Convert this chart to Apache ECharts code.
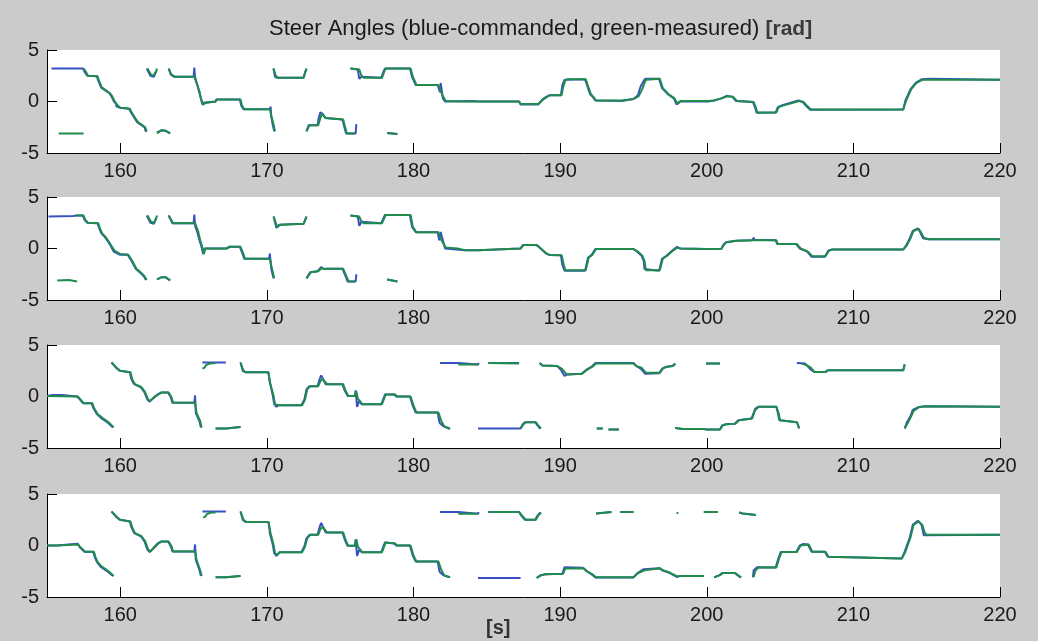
<!DOCTYPE html>
<html>
<head>
<meta charset="utf-8">
<script src="https://cdn.jsdelivr.net/npm/echarts@6/dist/echarts.min.js"></script>
<style>
  html, body { margin: 0; padding: 0; background: #cbcbcb; }
  #chart { width: 1038px; height: 641px; }
</style>
</head>
<body>
<div id="chart"></div>
<script>
// Steer angle traces, [time s, angle rad]; null marks a break (angle wrap / dropout).
const xTicks = [160, 170, 180, 190, 200, 210, 220];
const yTicks = [-5, 0, 5];

// ---- wheel 1 ----
const cmd1 = [
  [155.3,3.2],[157.45,3.2],[157.6,2.8],[157.75,2.5],[158.4,2.45],[158.5,2.0],[158.7,1.35],[158.95,1.1],[159.25,0.8],[159.4,0.5],[159.55,0.05],[159.7,-0.2],[159.75,-0.5],[160.0,-0.6],[160.6,-0.7],[160.7,-1.0],[160.9,-1.45],[161.15,-2.0],[161.45,-2.3],[161.65,-2.5],[161.75,-2.95], null,
  [161.8,3.2],[162.05,2.5],[162.3,2.4],[162.45,3.0], null,
  [162.5,-3.0],[162.8,-2.8],[163.1,-2.85],[163.4,-3.1], null,
  [163.3,3.2],[163.45,2.6],[163.65,2.4],[165.0,2.4],[165.05,3.3],[165.1,2.2],[165.25,1.6],[165.4,0.8],[165.6,-0.3],[165.75,-0.1],[165.85,0],[166.5,0],[166.55,0.2],[168.15,0.2],[168.25,-0.4],[168.4,-0.75],[170.2,-0.75],[170.25,-0.5],[170.3,-1.5],[170.4,-2.3],[170.5,-2.9], null,
  [170.45,3.2],[170.55,2.4],[170.7,2.3],[172.5,2.3],[172.6,2.8],[172.7,3.2], null,
  [172.7,-2.9],[172.85,-2.3],[173.45,-2.3],[173.55,-1.5],[173.65,-1.06],[173.8,-1.2],[174.0,-1.6],[174.1,-1.7],[175.15,-1.75],[175.25,-2.3],[175.4,-3.1],[176.05,-3.1],[176.1,-2.2], null,
  [175.7,3.2],[176.2,3.1],[176.3,2.2],[176.45,2.4],[176.55,2.3],[177.8,2.3],[177.95,2.9],[178.05,3.2],[179.75,3.2],[179.9,2.4],[180.15,1.6],[181.65,1.6],[181.8,0.9],[181.85,1.8],[182.0,0.3],[182.15,0.0],[184.0,0.05],[184.5,0.0],[187.2,0.0],[187.3,-0.3],[188.5,-0.3],[188.8,0.2],[189.05,0.45],[189.25,0.6],[190.05,0.6],[190.15,1.6],[190.3,2.1],[191.7,2.15],[191.85,1.5],[192.05,0.7],[192.25,0.4],[192.4,0.1],[194.2,0.05],[195.0,0.25],[195.3,0.6],[195.5,1.5],[195.7,2.0],[195.8,2.2],[196.75,2.2],[196.95,1.3],[197.35,0.7],[197.75,0.3],[197.95,-0.3],[198.2,0.0],[200.1,0.0],[200.5,0.1],[201.0,0.3],[201.35,0.55],[201.75,0.45],[202.0,0.05],[203.15,-0.05],[203.3,-0.6],[203.4,-1.1],[204.7,-1.06],[204.85,-0.55],[205.15,-0.35],[206.25,0.1],[206.55,-0.05],[206.75,-0.4],[207.05,-0.8],[213.4,-0.77],[213.55,0.1],[213.9,1.2],[214.25,1.8],[214.65,2.15],[215.2,2.2],[215.3,2.1],[220,2.1], null,
  [178.2,-3.05],[178.9,-3.15]
];
const meas1 = [
  [155.8,-3.1],[157.5,-3.1], null,
  [157.5,3.2],[157.65,2.9],[157.8,2.5],[158.45,2.45],[158.55,2.0],[158.75,1.35],[159.0,1.1],[159.3,0.8],[159.45,0.5],[159.6,0.05],[159.8,-0.35],[160.0,-0.6],[160.65,-0.7],[160.75,-1.0],[160.95,-1.45],[161.2,-2.0],[161.5,-2.3],[161.7,-2.5],[161.8,-2.9], null,
  [161.85,3.2],[162.1,2.6],[162.25,2.5],[162.45,2.9],[162.5,3.2], null,
  [162.5,-3.1],[162.8,-2.8],[163.1,-2.85],[163.4,-3.1], null,
  [163.3,3.2],[163.45,2.7],[163.7,2.4],[165.1,2.4],[165.2,1.85],[165.4,1.0],[165.5,0.3],[165.65,-0.3],[165.8,-0.15],[165.9,0],[166.5,0],[166.6,0.2],[168.2,0.2],[168.3,-0.4],[168.45,-0.75],[170.2,-0.75],[170.3,-1.4],[170.45,-2.2],[170.55,-2.9], null,
  [170.45,3.2],[170.6,2.5],[170.75,2.3],[172.5,2.3],[172.6,2.8],[172.7,3.2], null,
  [172.7,-2.9],[172.9,-2.3],[173.5,-2.3],[173.65,-1.6],[173.75,-1.2],[174.0,-1.6],[174.1,-1.7],[175.2,-1.75],[175.3,-2.3],[175.45,-3.1],[176.0,-3.1], null,
  [175.7,3.2],[176.3,3.1],[176.45,2.5],[176.6,2.3],[177.85,2.3],[178.0,2.9],[178.1,3.2],[179.8,3.2],[179.95,2.4],[180.2,1.6],[181.7,1.6],[181.85,1.0],[182.05,0.4],[182.2,0.05],[183.0,0.0],[184.5,0.0],[187.2,0.0],[187.3,-0.25],[188.5,-0.25],[188.85,0.2],[189.1,0.45],[189.3,0.6],[190.1,0.6],[190.2,1.4],[190.35,2.05],[190.5,2.15],[191.75,2.15],[191.9,1.5],[192.1,0.7],[192.3,0.4],[192.45,0.1],[194.2,0.1],[195.0,0.25],[195.35,0.5],[195.6,1.2],[195.75,1.8],[195.85,2.1],[196.8,2.2],[197.0,1.3],[197.4,0.7],[197.8,0.3],[198.0,-0.2],[198.2,0.05],[200.1,0.05],[200.5,0.1],[201.0,0.3],[201.4,0.5],[201.8,0.45],[202.05,0.05],[203.2,-0.05],[203.35,-0.6],[203.45,-1.06],[204.75,-1.06],[204.9,-0.55],[205.2,-0.4],[206.3,0.05],[206.6,-0.05],[206.8,-0.35],[207.1,-0.77],[213.4,-0.77],[213.6,0.1],[213.95,1.2],[214.3,1.8],[214.7,2.1],[220,2.1], null,
  [178.2,-3.05],[178.9,-3.15]
];

// ---- wheel 2 ----
const cmd2 = [
  [155.1,3.1],[156.8,3.15],[157.0,3.2],[157.45,3.2],[157.55,2.8],[157.75,2.5],[158.45,2.45],[158.55,2.0],[158.7,1.5],[158.95,1.1],[159.15,0.7],[159.35,0.25],[159.55,-0.3],[159.95,-0.6],[160.5,-0.6],[160.75,-1.17],[161.05,-1.96],[161.4,-2.4],[161.6,-2.7],[161.75,-3.06], null,
  [161.8,3.2],[162.05,2.5],[162.3,2.4],[162.45,3.0], null,
  [162.5,-3.0],[162.8,-2.8],[163.1,-2.8],[163.4,-3.1], null,
  [163.3,3.2],[163.55,2.46],[165.0,2.46],[165.05,3.3],[165.1,2.2],[165.25,1.6],[165.4,0.8],[165.55,0.1],[165.65,-0.54],[165.75,0.0],[167.25,0.0],[167.4,0.16],[168.15,0.16],[168.35,-0.55],[168.45,-1.0],[170.15,-1.0],[170.2,-0.5],[170.3,-2.0],[170.45,-2.9], null,
  [170.45,3.1],[170.65,2.0],[170.85,2.3],[172.5,2.4],[172.7,3.1], null,
  [172.7,-2.9],[172.95,-2.3],[173.45,-2.2],[173.7,-1.8],[173.9,-2.0],[174.1,-1.96],[175.15,-1.96],[175.4,-2.8],[175.5,-3.2],[176.05,-3.2],[176.1,-2.5], null,
  [175.7,3.2],[176.2,3.1],[176.3,2.2],[176.45,2.6],[176.55,2.46],[177.8,2.46],[178.05,3.25],[179.75,3.25],[179.9,2.1],[180.15,1.58],[181.65,1.58],[181.75,0.8],[181.85,1.6],[182.15,0.0],[183.5,-0.16],[184.4,-0.16],[184.5,0.0],[187.3,0.0],[187.45,0.33],[188.4,0.33],[188.6,0.1],[189.05,-0.5],[189.25,-0.62],[190.05,-0.65],[190.15,-1.6],[190.3,-2.15],[191.7,-2.15],[191.9,-0.9],[192.15,-0.6],[192.4,-0.05],[195.0,-0.05],[195.25,-0.3],[195.55,-0.7],[195.7,-1.2],[195.75,-2.0],[195.8,-2.15],[196.75,-2.15],[196.95,-1.0],[197.25,-0.7],[197.65,-0.2],[197.95,0.15],[198.2,0.0],[199.9,-0.05],[201.0,-0.03],[201.15,0.4],[201.3,0.6],[202.0,0.75],[203.1,0.8],[203.2,1.05],[203.25,0.85],[204.7,0.8],[204.8,0.43],[206.1,0.43],[206.35,0.0],[206.85,-0.3],[207.15,-0.8],[208.05,-0.8],[208.3,-0.2],[208.55,-0.1],[213.4,-0.1],[213.6,0.3],[213.85,1.0],[214.05,1.7],[214.4,1.95],[214.55,1.6],[214.75,1.0],[215.1,0.9],[220,0.9], null,
  [178.2,-3.0],[178.9,-3.2]
];
const meas2 = [
  [155.7,-3.1],[156.5,-3.05],[156.6,-3.2],[157.05,-3.2], null,
  [157.0,3.2],[157.5,3.2],[157.6,2.8],[157.8,2.5],[158.5,2.45],[158.6,2.0],[158.75,1.5],[159.0,1.1],[159.2,0.7],[159.4,0.25],[159.6,-0.2],[160.0,-0.54],[160.55,-0.6],[160.8,-1.17],[161.1,-1.96],[161.45,-2.4],[161.65,-2.7],[161.8,-3.06], null,
  [161.85,3.2],[162.1,2.6],[162.3,2.5],[162.45,2.9],[162.5,3.2], null,
  [162.5,-3.0],[162.8,-2.8],[163.1,-2.8],[163.4,-3.1], null,
  [163.3,3.2],[163.6,2.46],[165.1,2.46],[165.3,1.7],[165.45,0.8],[165.6,0.1],[165.7,-0.54],[165.8,0.0],[167.3,0.0],[167.45,0.16],[168.2,0.16],[168.4,-0.55],[168.5,-1.0],[170.2,-1.0],[170.35,-2.0],[170.5,-2.9], null,
  [170.45,3.1],[170.7,2.1],[170.9,2.3],[172.5,2.4],[172.7,3.1], null,
  [172.7,-2.9],[173.0,-2.3],[173.5,-2.2],[173.75,-1.9],[173.9,-2.0],[174.1,-1.96],[175.2,-1.96],[175.45,-2.8],[175.57,-3.2],[176.0,-3.2], null,
  [175.7,3.2],[176.3,3.1],[176.45,2.6],[176.6,2.46],[177.85,2.46],[178.1,3.25],[179.8,3.25],[179.95,2.1],[180.2,1.58],[181.7,1.58],[181.9,0.8],[182.2,0.1],[183.0,0.0],[183.5,-0.16],[184.4,-0.16],[184.5,0.0],[187.3,0.0],[187.5,0.33],[188.4,0.33],[188.6,0.1],[189.1,-0.5],[189.3,-0.62],[190.1,-0.65],[190.25,-1.6],[190.35,-2.1],[191.75,-2.1],[191.95,-0.9],[192.2,-0.6],[192.45,-0.05],[195.0,-0.05],[195.3,-0.3],[195.6,-0.7],[195.75,-1.2],[195.85,-2.1],[196.8,-2.1],[197.0,-1.0],[197.3,-0.7],[197.7,-0.2],[198.0,0.1],[198.2,0.0],[199.9,-0.05],[201.0,-0.03],[201.2,0.4],[201.35,0.6],[202.05,0.75],[203.2,0.8],[204.75,0.8],[204.85,0.43],[206.15,0.43],[206.4,0.0],[206.9,-0.3],[207.2,-0.75],[208.1,-0.75],[208.35,-0.2],[208.6,-0.1],[213.4,-0.1],[213.65,0.3],[213.9,1.0],[214.1,1.7],[214.45,1.9],[214.6,1.6],[214.8,1.05],[215.15,0.9],[220,0.9], null,
  [178.2,-3.0],[178.9,-3.2]
];

// ---- wheel 3 ----
const cmd3 = [
  [155,0.06],[155.4,0.15],[156.0,0.15],[156.1,0.0],[157.05,0.0],[157.25,-0.3],[157.45,-0.65],[158.05,-0.65],[158.15,-1.1],[158.4,-1.7],[158.75,-2.15],[159.15,-2.55],[159.5,-3.0], null,
  [159.4,3.3],[159.7,2.8],[159.95,2.5],[160.65,2.35],[160.75,1.7],[160.95,1.2],[161.4,0.9],[161.65,0.4],[161.85,-0.3],[162.0,-0.5],[162.35,0.0],[162.55,0.2],[162.8,0.4],[163.25,0.4],[163.45,-0.1],[163.55,-0.6],[165.05,-0.6],[165.1,0.1],[165.15,-1.6],[165.4,-2.4],[165.5,-3.0], null,
  [165.6,3.3],[167.2,3.3], null,
  [166.5,-3.1],[167.2,-3.1],[167.3,-2.96],[168.2,-2.96], null,
  [168.2,3.3],[168.35,2.5],[168.55,2.35],[170.1,2.35],[170.15,2.2],[170.2,1.4],[170.4,0.1],[170.5,-0.75],[170.65,-1.0],[170.8,-0.85],[172.35,-0.85],[172.55,-0.3],[172.7,0.7],[172.9,1.0],[173.45,1.0],[173.6,1.7],[173.7,2.05],[174.0,1.2],[175.15,1.2],[175.3,0.6],[175.5,0.06],[176.0,0.06],[176.05,0.6],[176.15,-1.0],[176.3,-0.4],[176.45,-0.75],[177.8,-0.75],[178.0,0.0],[178.05,0.2],[178.7,0.2],[178.8,0.0],[179.75,0.0],[179.95,-0.9],[180.15,-1.56],[181.65,-1.56],[181.75,-2.4],[181.8,-2.6],[182.05,-2.9],[182.45,-3.13], null,
  [181.8,3.25],[183.05,3.25],[183.1,3.1],[184.4,3.1],[184.45,3.25], null,
  [184.4,-3.1],[187.3,-3.1],[187.45,-2.7],[187.6,-2.5],[188.3,-2.5],[188.45,-2.8],[188.65,-3.15], null,
  [185.1,3.25],[187.2,3.25], null,
  [188.6,3.25],[188.8,3.0],[189.8,2.95],[190.05,2.6],[190.3,2.0],[190.45,2.14],[191.45,2.2],[191.8,2.6],[192.15,2.9],[192.4,3.25],[195.0,3.25],[195.2,2.95],[195.5,2.7],[195.8,2.2],[196.75,2.25],[196.95,2.7],[197.25,2.9],[197.65,2.95],[197.85,3.2], null,
  [192.5,-3.1],[192.9,-3.1], null,
  [193.3,-3.2],[194.0,-3.2], null,
  [197.85,-3.06],[198.35,-3.15],[199.8,-3.15],[200.0,-3.2],[200.9,-3.2],[201.05,-2.8],[201.3,-2.7],[201.9,-2.65],[202.15,-2.3],[202.25,-2.14],[203.05,-2.14],[203.2,-1.6],[203.3,-1.2],[203.5,-1.0],[204.75,-1.0],[204.85,-1.6],[204.95,-2.3],[205.05,-2.47],[206.15,-2.5],[206.3,-3.1], null,
  [199.95,3.2],[200.9,3.2], null,
  [206.15,3.25],[206.7,3.2],[206.9,2.9],[207.1,2.6],[207.35,2.37],[208.05,2.37],[208.25,2.55],[213.4,2.55],[213.5,3.1], null,
  [213.5,-3.1],[213.65,-2.5],[213.9,-1.9],[214.05,-1.3],[214.4,-1.05],[214.9,-0.95],[220,-1.0]
];
const meas3 = [
  [155,0.06],[157.1,0.0],[157.3,-0.3],[157.5,-0.65],[158.1,-0.65],[158.2,-1.1],[158.45,-1.7],[158.8,-2.1],[159.2,-2.5],[159.55,-3.0], null,
  [159.4,3.3],[159.75,2.8],[160.0,2.5],[160.7,2.35],[160.8,1.7],[161.0,1.2],[161.45,0.9],[161.7,0.4],[161.9,-0.3],[162.05,-0.42],[162.4,0.0],[162.6,0.2],[162.85,0.4],[163.3,0.4],[163.5,-0.1],[163.6,-0.6],[165.1,-0.6],[165.2,-1.6],[165.45,-2.4],[165.55,-3.0], null,
  [165.6,2.7],[165.75,2.8],[165.85,3.05],[166.1,3.2],[166.5,3.25], null,
  [166.5,-3.1],[167.2,-3.1],[167.3,-2.96],[168.2,-2.96], null,
  [168.2,3.3],[168.4,2.5],[168.6,2.35],[170.1,2.35],[170.2,1.4],[170.45,0.1],[170.55,-0.75],[170.8,-0.85],[172.4,-0.85],[172.6,-0.3],[172.75,0.7],[172.95,1.0],[173.5,1.0],[173.65,1.5],[173.8,1.7],[174.1,1.2],[175.2,1.2],[175.35,0.6],[175.55,0.06],[176.0,0.06],[176.1,0.5],[176.2,-0.2],[176.5,-0.75],[177.85,-0.75],[178.05,0.0],[178.1,0.2],[178.75,0.2],[178.85,0.0],[179.8,0.0],[180.0,-0.9],[180.2,-1.56],[181.7,-1.56],[181.9,-2.4],[182.1,-2.9],[182.5,-3.13], null,
  [183.05,3.1],[184.4,3.1], null,
  [185.1,3.25],[187.2,3.2], null,
  [187.3,-3.1],[187.5,-2.7],[187.65,-2.5],[188.35,-2.5],[188.5,-2.8],[188.7,-3.1], null,
  [188.6,3.25],[188.8,3.0],[189.8,2.95],[190.1,2.7],[190.45,2.14],[191.5,2.2],[191.85,2.6],[192.2,2.9],[192.45,3.2],[195.0,3.2],[195.2,2.95],[195.55,2.8],[195.85,2.3],[196.8,2.3],[197.0,2.7],[197.3,2.9],[197.7,2.95],[197.85,3.2], null,
  [192.5,-3.1],[192.9,-3.1], null,
  [193.3,-3.2],[194.0,-3.2], null,
  [197.85,-3.06],[198.4,-3.15],[199.8,-3.15],[200.0,-3.2],[200.9,-3.2],[201.1,-2.8],[201.35,-2.7],[201.95,-2.65],[202.2,-2.3],[202.3,-2.14],[203.1,-2.14],[203.3,-1.3],[203.55,-1.0],[204.75,-1.0],[204.9,-1.6],[205.0,-2.3],[205.1,-2.47],[206.15,-2.5],[206.3,-3.1], null,
  [199.95,3.2],[200.9,3.2], null,
  [206.5,3.2],[206.8,3.05],[207.1,2.8],[207.3,2.45],[207.45,2.37],[208.1,2.37],[208.3,2.55],[213.4,2.55],[213.5,3.1], null,
  [213.5,-3.1],[213.7,-2.6],[213.95,-1.9],[214.1,-1.4],[214.45,-1.05],[214.9,-0.95],[220,-1.0]
];

// ---- wheel 4 ----
const cmd4 = [
  [155,0.0],[155.65,0.0],[155.7,0.16],[157.1,0.16],[157.25,-0.2],[157.55,-0.6],[158.15,-0.6],[158.25,-1.1],[158.4,-1.6],[158.65,-2.05],[159.15,-2.55],[159.5,-2.95], null,
  [159.4,3.3],[159.7,2.8],[159.95,2.5],[160.65,2.34],[160.75,1.8],[160.95,1.2],[161.4,0.9],[161.65,0.4],[161.85,-0.4],[162.0,-0.65],[162.35,-0.1],[162.55,0.2],[162.8,0.4],[163.25,0.4],[163.45,-0.1],[163.55,-0.58],[165.05,-0.58],[165.1,0.1],[165.15,-1.4],[165.4,-2.4],[165.5,-2.95], null,
  [165.6,3.3],[167.2,3.3], null,
  [166.5,-3.08],[167.2,-3.08],[167.3,-2.95],[168.2,-2.95], null,
  [168.2,3.3],[168.35,2.5],[168.55,2.27],[170.1,2.27],[170.15,2.0],[170.2,1.2],[170.4,0.1],[170.5,-0.75],[170.65,-1.0],[170.85,-0.65],[172.35,-0.65],[172.55,-0.1],[172.7,0.7],[172.9,1.04],[173.45,1.04],[173.6,1.8],[173.7,2.2],[174.0,1.27],[175.15,1.27],[175.3,0.6],[175.5,-0.03],[176.0,-0.03],[176.05,0.6],[176.15,-1.0],[176.3,-0.4],[176.45,-0.65],[177.8,-0.65],[178.0,0.1],[178.05,0.3],[178.7,0.2],[178.8,0.0],[179.75,0.0],[179.95,-1.0],[180.15,-1.56],[181.65,-1.56],[181.75,-2.4],[181.8,-2.6],[182.05,-2.9],[182.45,-3.08], null,
  [181.8,3.25],[183.05,3.25],[183.1,3.08],[184.4,3.08],[184.45,3.25], null,
  [184.4,-3.15],[187.3,-3.15], null,
  [185.1,3.25],[187.2,3.25],[187.35,2.9],[187.6,2.5],[188.3,2.5],[188.45,2.9],[188.65,3.2], null,
  [188.4,-3.15],[188.65,-2.9],[188.95,-2.8],[190.15,-2.75],[190.3,-2.1],[191.55,-2.15],[191.8,-2.5],[192.15,-2.8],[192.4,-3.1],[195.0,-3.1],[195.25,-2.7],[195.7,-2.3],[195.8,-2.15],[196.75,-2.2],[196.95,-2.4],[197.45,-2.65],[197.95,-3.05],[198.2,-2.95],[199.8,-2.95], null,
  [192.45,3.1],[192.55,3.25],[193.5,3.25], null,
  [194.1,3.25],[195.0,3.25], null,
  [197.95,3.15],[198.05,3.15], null,
  [199.8,3.25],[200.75,3.25], null,
  [200.5,-3.1],[200.9,-2.85],[201.05,-2.67],[201.9,-2.67],[202.3,-3.1], null,
  [202.2,3.2],[202.45,3.1],[203.35,2.95], null,
  [203.15,-3.1],[203.2,-2.4],[203.45,-2.1],[204.7,-2.14],[204.85,-1.4],[205.05,-0.62],[206.1,-0.62],[206.35,0.0],[206.6,0.15],[206.9,0.1],[207.15,-0.6],[208.05,-0.6],[208.25,-1.1],[208.35,-1.27],[213.3,-1.27],[213.5,-0.6],[213.85,0.8],[214.05,2.0],[214.4,2.4],[214.65,2.0],[214.75,1.3],[214.8,1.0],[220,1.04]
];
const meas4 = [
  [155,0.0],[155.7,0.0],[155.8,0.1],[157.1,0.1],[157.3,-0.2],[157.6,-0.6],[158.2,-0.6],[158.3,-1.1],[158.45,-1.6],[158.7,-2.0],[159.2,-2.5],[159.55,-2.95], null,
  [159.4,3.3],[159.75,2.8],[160.0,2.5],[160.7,2.34],[160.8,1.8],[161.0,1.2],[161.45,0.9],[161.7,0.4],[161.9,-0.4],[162.05,-0.58],[162.4,-0.1],[162.6,0.2],[162.85,0.4],[163.3,0.4],[163.5,-0.1],[163.6,-0.58],[165.1,-0.58],[165.2,-1.4],[165.45,-2.4],[165.55,-2.95], null,
  [165.65,2.7],[165.8,2.8],[165.9,3.05],[166.2,3.2],[166.5,3.2], null,
  [166.5,-3.08],[167.2,-3.08],[167.3,-2.95],[168.2,-2.95], null,
  [168.2,3.3],[168.4,2.5],[168.6,2.27],[170.1,2.27],[170.25,1.2],[170.45,0.1],[170.55,-0.75],[170.7,-0.9],[170.9,-0.65],[172.4,-0.65],[172.6,-0.1],[172.75,0.7],[172.95,1.04],[173.5,1.04],[173.65,1.6],[173.8,1.8],[174.1,1.27],[175.2,1.27],[175.35,0.6],[175.55,-0.03],[176.0,-0.03],[176.1,0.6],[176.2,-0.1],[176.5,-0.65],[177.85,-0.65],[178.05,0.1],[178.1,0.3],[178.75,0.2],[178.85,0.0],[179.8,0.0],[180.0,-1.0],[180.2,-1.56],[181.7,-1.56],[181.9,-2.4],[182.1,-2.9],[182.5,-3.08], null,
  [183.05,3.08],[184.4,3.08], null,
  [185.1,3.25],[187.2,3.25],[187.4,2.9],[187.65,2.5],[188.35,2.5],[188.5,2.9],[188.7,3.2], null,
  [188.4,-3.15],[188.7,-2.9],[189.0,-2.8],[190.2,-2.75],[190.35,-2.24],[191.6,-2.2],[191.85,-2.5],[192.2,-2.8],[192.45,-3.08],[195.0,-3.08],[195.3,-2.7],[195.75,-2.4],[195.85,-2.24],[196.8,-2.2],[197.0,-2.4],[197.5,-2.65],[198.0,-3.0],[198.2,-2.95],[199.8,-2.95], null,
  [192.45,3.1],[192.55,3.25],[193.5,3.25], null,
  [194.1,3.25],[195.0,3.25], null,
  [197.95,3.15],[198.05,3.15], null,
  [199.8,3.25],[200.75,3.25], null,
  [200.5,-3.1],[200.95,-2.85],[201.1,-2.67],[201.95,-2.67],[202.35,-3.1], null,
  [202.2,3.2],[202.45,3.1],[203.35,2.95], null,
  [203.2,-3.05],[203.3,-2.5],[203.5,-2.14],[204.75,-2.14],[204.9,-1.4],[205.1,-0.62],[206.15,-0.62],[206.4,0.0],[206.95,0.1],[207.2,-0.6],[208.1,-0.6],[208.3,-1.1],[208.4,-1.27],[213.3,-1.27],[213.55,-0.6],[213.9,0.8],[214.1,2.0],[214.45,2.34],[214.7,2.0],[214.85,1.3],[215.0,1.04],[220,1.04]
];

const commanded = [cmd1, cmd2, cmd3, cmd4];
const measured = [meas1, meas2, meas3, meas4];

const BLUE = '#3850c4';
const GREEN = '#1f8c4c';
const FONT = 'Liberation Sans, Arial, sans-serif';
const panelTops = [50, 197, 345, 494];
const panelHeight = 103;

// null entries become gaps in the line
const toSeriesData = arr => arr.map(p => (p === null ? ['-', '-'] : p));

const grids = [], xAxes = [], yAxes = [], series = [];
panelTops.forEach((top, i) => {
  grids.push({
    left: 47, right: 38, top: top, height: panelHeight, containLabel: false,
    show: true, backgroundColor: '#ffffff', borderWidth: 0
  });
  xAxes.push({
    type: 'value', gridIndex: i, min: 155, max: 220,
    axisLine: { show: true, onZero: false, lineStyle: { color: '#000', width: 1 } },
    axisTick: { show: true, inside: true, length: 10, customValues: xTicks, lineStyle: { color: '#000' } },
    axisLabel: { customValues: xTicks, fontSize: 20, color: '#1a1a1a', fontFamily: FONT, margin: 8 },
    splitLine: { show: false }
  });
  yAxes.push({
    type: 'value', gridIndex: i, min: -5, max: 5,
    axisLine: { show: true, onZero: false, lineStyle: { color: '#000', width: 1 } },
    axisTick: { show: true, inside: true, length: 10, customValues: yTicks, lineStyle: { color: '#000' } },
    axisLabel: { customValues: yTicks, fontSize: 20, color: '#1a1a1a', fontFamily: FONT, margin: 8 },
    splitLine: { show: false }
  });
  series.push({
    name: 'commanded', type: 'line', xAxisIndex: i, yAxisIndex: i,
    data: toSeriesData(commanded[i]), showSymbol: false, symbol: 'none',
    connectNulls: false, clip: true,
    lineStyle: { color: BLUE, width: 2 }, z: 2
  });
  series.push({
    name: 'measured', type: 'line', xAxisIndex: i, yAxisIndex: i,
    data: toSeriesData(measured[i]), showSymbol: false, symbol: 'none',
    connectNulls: false, clip: true,
    lineStyle: { color: GREEN, width: 2 }, z: 3
  });
});

const chart = echarts.init(document.getElementById('chart'), null, { renderer: 'canvas' });
chart.setOption({
  animation: false,
  backgroundColor: '#cbcbcb',
  title: {
    text: 'Steer Angles (blue-commanded, green-measured) {b|[rad]}',
    left: 264, top: 13,
    textStyle: {
      fontSize: 22, fontWeight: 'normal', color: '#1a1a1a', fontFamily: FONT,
      rich: { b: { fontSize: 21, fontWeight: 'bold', color: '#3a3a3a', fontFamily: FONT } }
    }
  },
  graphic: [{
    type: 'text', left: 486, top: 618,
    style: { text: '[s]', fontSize: 20, fontWeight: 'bold', fill: '#333', fontFamily: FONT }
  }],
  grid: grids,
  xAxis: xAxes,
  yAxis: yAxes,
  series: series
});
</script>
</body>
</html>
